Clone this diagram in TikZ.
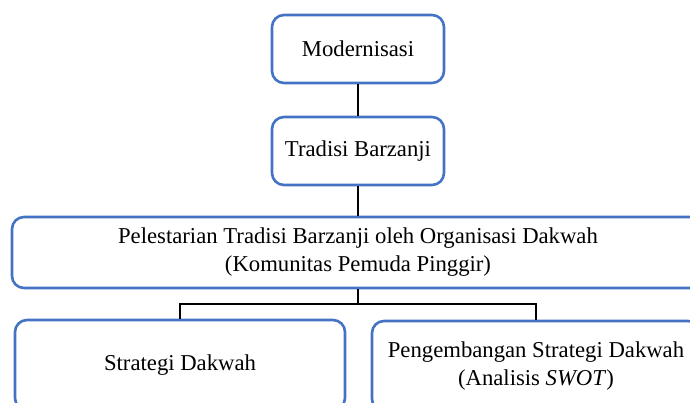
\documentclass[tikz,border=0pt]{standalone}
\usepackage{fontspec}
\setmainfont{Liberation Serif}
\definecolor{boxblue}{RGB}{68,114,196}
\begin{document}
\begin{tikzpicture}[x=1pt,y=-1pt,
  box/.style={draw=boxblue,line width=2.6pt,rounded corners=12pt,fill=white,
    align=center,inner sep=0pt,font=\fontsize{22.7}{28}\selectfont},
  conn/.style={draw=black,line width=2.8pt}]
\useasboundingbox (0,0) rectangle (690,403);
\clip (0,0) rectangle (690,403);
\node[box,minimum width=172pt,minimum height=68pt] (m) at (358,49) {Modernisasi};
\node[box,minimum width=172pt,minimum height=68pt] (t) at (358,151) {Tradisi Barzanji};
\node[box,minimum width=692pt,minimum height=71pt] (b) at (358,252.5)
  {Pelestarian Tradisi Barzanji oleh Organisasi Dakwah\\(Komunitas Pemuda Pinggir)};
\node[box,minimum width=330pt,minimum height=90pt] (l) at (180,365) {Strategi Dakwah};
\node[box,minimum width=328pt,minimum height=90pt] (r) at (536,366)
  {Pengembangan Strategi Dakwah\\(Analisis \textit{SWOT})};
\coordinate (j) at (358,304);
\draw[conn] (m.south) -- (t.north);
\draw[conn] (t.south) -- (b.north);
\draw[conn] (b.south) -- (j);
\draw[conn] (l.north) |- (j) -| (r.north);
\end{tikzpicture}
\end{document}
